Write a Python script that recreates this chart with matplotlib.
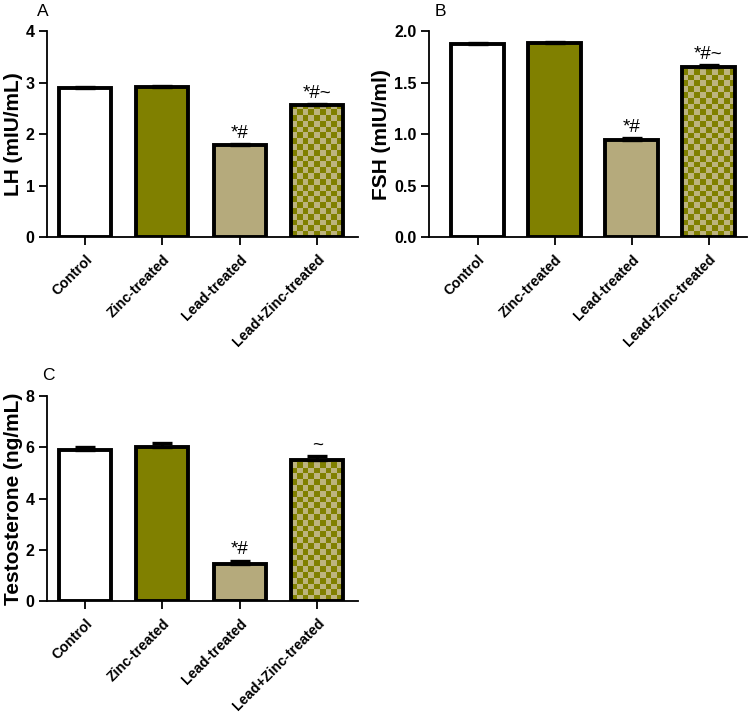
import numpy as np
import matplotlib
matplotlib.use("Agg")
import matplotlib.pyplot as plt
from matplotlib.colors import ListedColormap

plt.rcParams['font.family'] = ['Liberation Sans', 'DejaVu Sans']

groups = ["Control", "Zinc-treated", "Lead-treated", "Lead+Zinc-treated"]
lh_mean = [2.90, 2.92, 1.78, 2.56]
lh_err = [0.02, 0.02, 0.03, 0.03]
lh_marks = ["", "", "*#", "*#~"]
fsh_mean = [1.87, 1.88, 0.94, 1.65]
fsh_err = [0.015, 0.015, 0.02, 0.02]
fsh_marks = ["", "", "*#", "*#~"]
tes_mean = [5.88, 6.03, 1.45, 5.50]
tes_err = [0.13, 0.12, 0.13, 0.15]
tes_marks = ["", "", "*#", "~"]

OLIVE = "#808000"
TAN = "#b5aa7c"
CHECK_LIGHT = "#bdb47e"

W, H = 750, 715
fig = plt.figure(figsize=(7.5, 7.15), dpi=100)

def panel(rect, means, errs, marks, ylabel, ylim, yticks, yfmt, letter, letter_px, xlim, width):
    ax = fig.add_axes(rect)
    x = np.arange(len(groups))
    ax.set_xlim(*xlim)
    ax.set_ylim(0, ylim)
    faces = ["white", OLIVE, TAN, "none"]
    bars = ax.bar(x, means, width=width, color=faces, edgecolor="black",
                  linewidth=2.8, zorder=3)
    b = bars[3]
    x0, w = b.get_x(), b.get_width()
    h = b.get_height()
    fig.canvas.draw()
    p0 = ax.transData.transform((x0, 0))
    p1 = ax.transData.transform((x0 + w, h))
    pxw, pxh = p1[0] - p0[0], p1[1] - p0[1]
    sq = 5.8
    nx = int(round(pxw / sq))
    ny = int(np.ceil(pxh / sq))
    checker = (np.indices((ny, nx)).sum(axis=0) % 2)
    cmap = ListedColormap([OLIVE, CHECK_LIGHT])
    h_img = ny * sq * h / pxh
    im = ax.imshow(checker, cmap=cmap, extent=(x0, x0 + w, 0, h_img), origin="lower",
                   aspect="auto", interpolation="nearest", zorder=2.5)
    im.set_clip_path(b)
    ax.set_xlim(*xlim)
    ax.set_ylim(0, ylim)
    ax.errorbar(x, means, yerr=[np.zeros(len(errs)), errs], fmt="none", ecolor="black",
                elinewidth=2.2, capsize=7.5, capthick=2.4, zorder=4)
    for xi, m, e, t in zip(x, means, errs, marks):
        if t:
            ax.text(xi, m + e + ylim * 0.01, t, ha="center", va="bottom", fontsize=13.5)
    for s in ["top", "right"]:
        ax.spines[s].set_visible(False)
    for s in ["left", "bottom"]:
        ax.spines[s].set_linewidth(1.3)
    ax.set_yticks(yticks)
    ax.set_yticklabels([yfmt.format(v) for v in yticks], fontweight="bold", fontsize=11.5)
    ax.set_xticks(x)
    ax.set_xticklabels(groups, rotation=45, ha="right", rotation_mode="anchor",
                       fontweight="bold", fontsize=10.3)
    ax.tick_params(axis="both", direction="out", length=6, width=1.3, pad=3)
    ax.tick_params(axis="x", pad=5)
    ax.set_ylabel(ylabel, fontweight="bold", fontsize=15, labelpad=2)
    fig.text(letter_px[0] / W, 1 - letter_px[1] / H, letter, fontsize=12.5,
             ha="center", va="center")
    return ax

panel([0.0627, 0.6685, 0.415, 0.288], lh_mean, lh_err, lh_marks, "LH (mIU/mL)",
      4, [0, 1, 2, 3, 4], "{:.0f}", "A", (43, 12), (-0.49, 3.53), 0.67)
panel([0.572, 0.6685, 0.424, 0.288], fsh_mean, fsh_err, fsh_marks, "FSH (mIU/ml)",
      2.0, [0.0, 0.5, 1.0, 1.5, 2.0], "{:.1f}", "B", (440, 12), (-0.63, 3.5), 0.69)
panel([0.0627, 0.1594, 0.415, 0.2867], tes_mean, tes_err, tes_marks, "Testosterone (ng/mL)",
      8, [0, 2, 4, 6, 8], "{:.0f}", "C", (48, 376), (-0.49, 3.53), 0.67)

fig.savefig("out.png", dpi=100)
